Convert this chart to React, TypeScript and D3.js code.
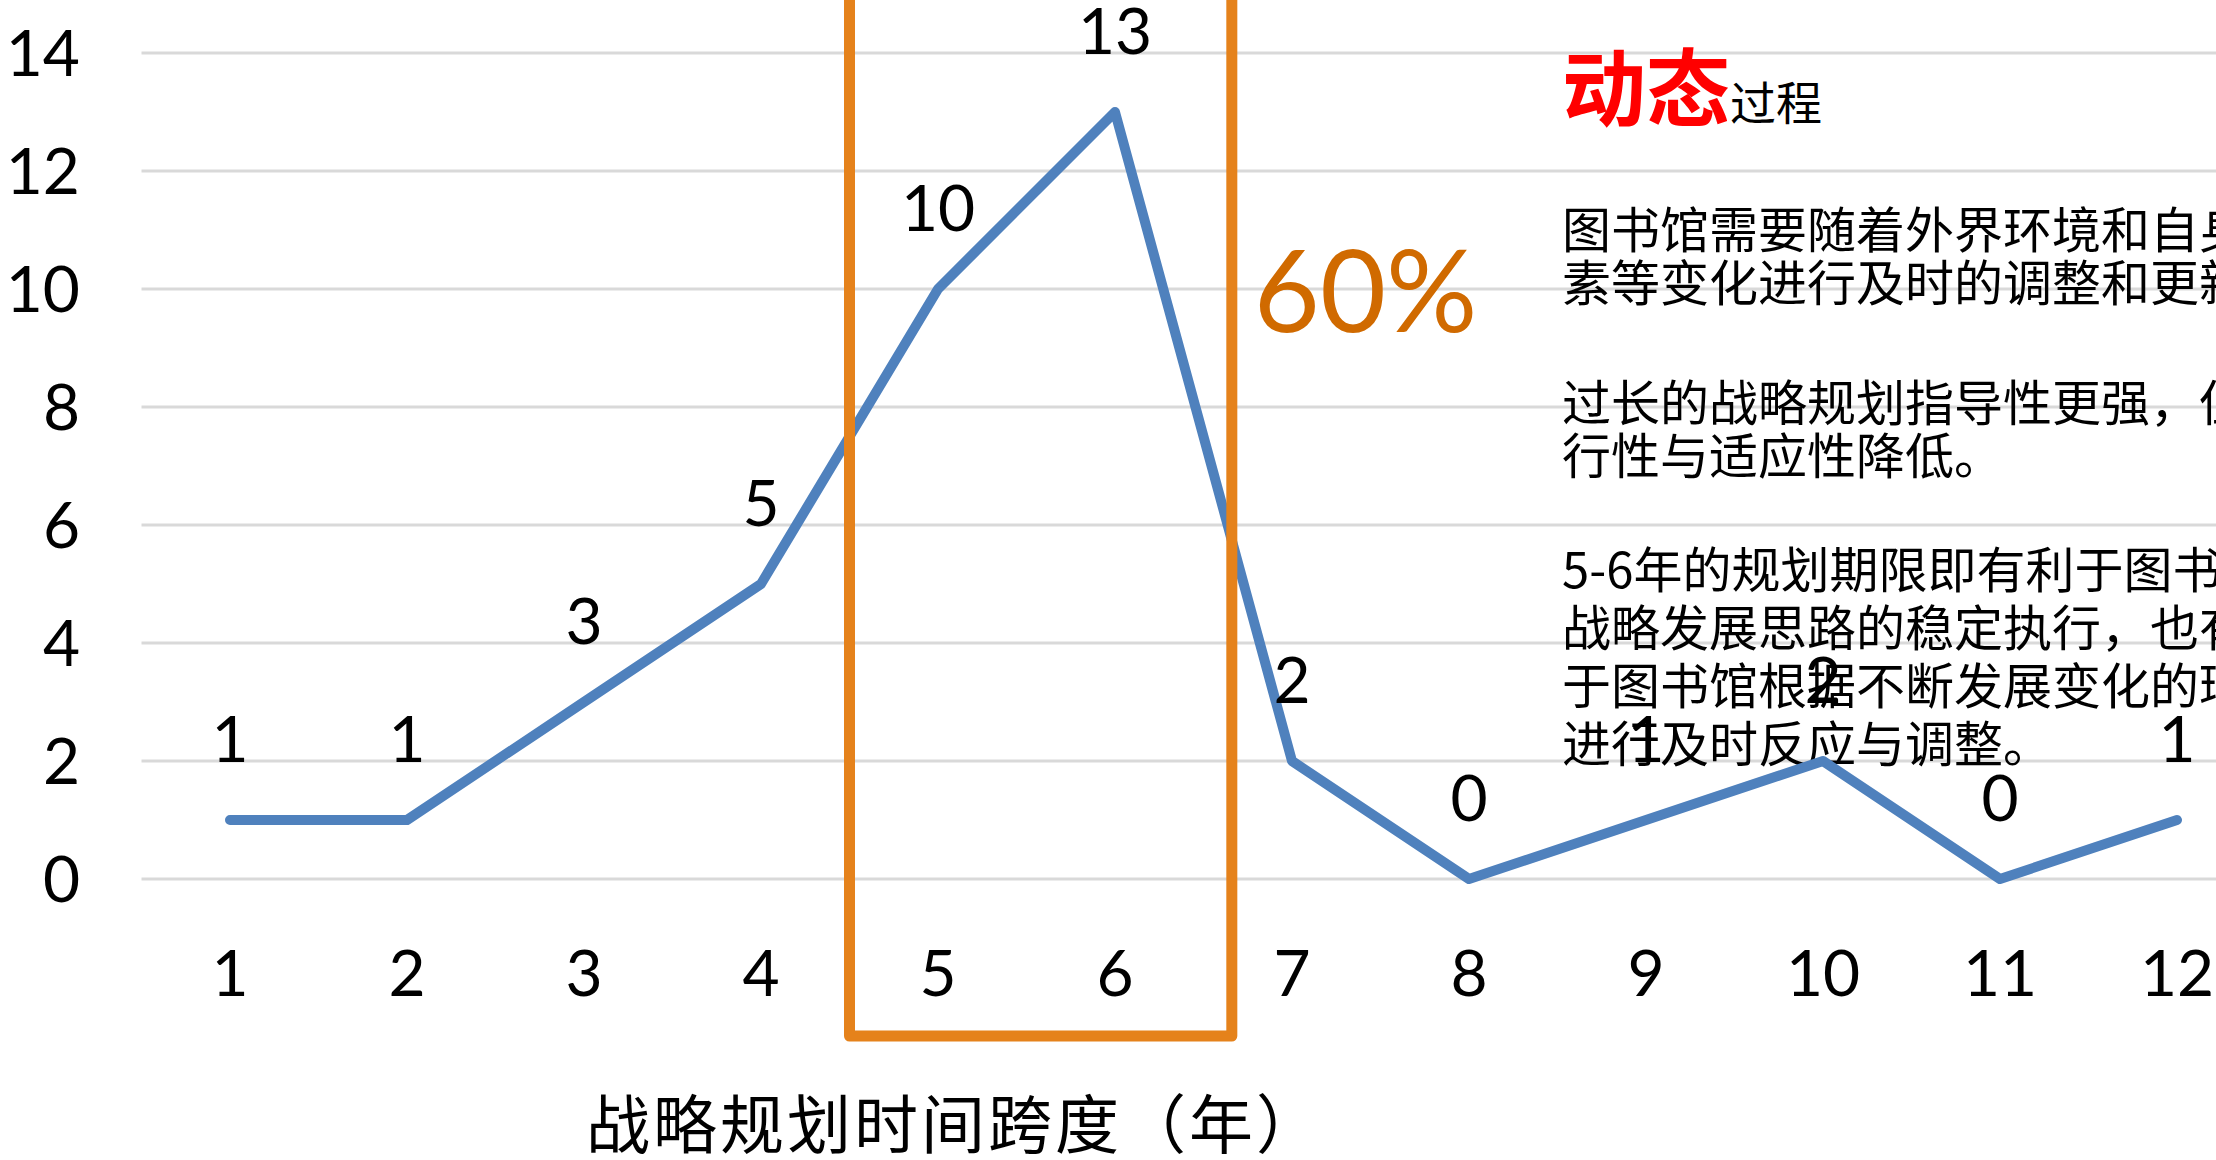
import React, { useEffect, useRef } from 'react';
import * as d3 from 'd3';

// chart data
const years = ['1', '2', '3', '4', '5', '6', '7', '8', '9', '10', '11', '12'];
const counts = [1, 1, 3, 5, 10, 13, 2, 0, 1, 2, 0, 1];
const yTicks = [0, 2, 4, 6, 8, 10, 12, 14];
const axisTitle = '战略规划时间跨度（年）';
const highlightYears = ['5', '6'];
const highlightShare = '60%';

// side note
const headlineRed = '动态';
const headlineRest = '过程';
const noteParagraphs = [
    ['图书馆需要随着外界环境和自身因', '素等变化进行及时的调整和更新。'],
    ['过长的战略规划指导性更强，但可执', '行性与适应性降低。'],
    ['5-6年的规划期限即有利于图书馆', '战略发展思路的稳定执行，也有利', '于图书馆根据不断发展变化的环境', '进行及时反应与调整。'],
];

const W = 2216;
const H = 1160;
const NUM_FONT = 'Lato, "Open Sans", sans-serif';
const CJK_FONT = '"Noto Sans CJK SC", sans-serif';

const App = () => {
    const svgRef = useRef<SVGSVGElement>(null);

    useEffect(() => {
        draw();
    }, []);

    const draw = () => {
        const svg = d3.select(svgRef.current);
        svg.selectAll('*').remove();

        const step = 177;
        const left = 141.5;
        const x = d3.scaleBand<string>()
            .domain(years)
            .range([left, left + step * years.length])
            .padding(0);
        const cx = (d: string) => (x(d) as number) + x.bandwidth() / 2;

        const y = d3.scaleLinear().domain([0, 14]).range([879, 53]);

        // gridlines
        svg.append('g')
            .selectAll('line')
            .data(yTicks)
            .enter()
            .append('line')
            .attr('x1', left)
            .attr('x2', W)
            .attr('y1', d => y(d))
            .attr('y2', d => y(d))
            .attr('stroke', '#D9D9D9')
            .attr('stroke-width', 3);

        // y tick labels
        svg.append('g')
            .selectAll('text')
            .data(yTicks)
            .enter()
            .append('text')
            .attr('x', 80)
            .attr('y', d => y(d) + 23)
            .attr('text-anchor', 'end')
            .style('font-family', NUM_FONT)
            .style('font-size', '64px')
            .attr('fill', '#000')
            .text(d => d);

        // x tick labels
        svg.append('g')
            .selectAll('text')
            .data(years)
            .enter()
            .append('text')
            .attr('x', d => cx(d))
            .attr('y', 996)
            .attr('text-anchor', 'middle')
            .style('font-family', NUM_FONT)
            .style('font-size', '64px')
            .attr('fill', '#000')
            .text(d => d);

        // axis title
        svg.append('text')
            .attr('x', 586)
            .attr('y', 1120)
            .attr('dominant-baseline', 'central')
            .style('font-family', CJK_FONT)
            .style('font-size', '64px')
            .style('letter-spacing', '3px')
            .attr('fill', '#000')
            .text(axisTitle);

        // side note
        const note = svg.append('g');
        const head = note.append('text')
            .attr('x', 1562)
            .attr('y', 120)
            .style('font-family', CJK_FONT);
        head.append('tspan')
            .style('font-size', '84px')
            .style('font-weight', 700)
            .attr('fill', '#FF0000')
            .text(headlineRed);
        head.append('tspan')
            .style('font-size', '46px')
            .attr('fill', '#000')
            .text(headlineRest);

        const paraTop = [226, 399, 566];
        const paraStep = [53, 53, 58];
        noteParagraphs.forEach((lines, i) => {
            note.append('g')
                .selectAll('text')
                .data(lines)
                .enter()
                .append('text')
                .attr('x', 1562)
                .attr('y', (_, j) => paraTop[i] + j * paraStep[i])
                .attr('dominant-baseline', 'central')
                .style('font-family', CJK_FONT)
                .style('font-size', '49px')
                .attr('fill', '#000')
                .text(d => d);
        });

        // series line
        const line = d3.line<number>()
            .x((_, i) => cx(years[i]))
            .y(d => y(d));

        svg.append('path')
            .datum(counts)
            .attr('d', line)
            .attr('fill', 'none')
            .attr('stroke', '#4F81BD')
            .attr('stroke-width', 10)
            .attr('stroke-linecap', 'round')
            .attr('stroke-linejoin', 'round');

        // data labels
        svg.append('g')
            .selectAll('text')
            .data(counts)
            .enter()
            .append('text')
            .attr('x', (_, i) => cx(years[i]))
            .attr('y', d => y(d) - 58)
            .attr('text-anchor', 'middle')
            .style('font-family', NUM_FONT)
            .style('font-size', '64px')
            .attr('fill', '#000')
            .text(d => d);

        // highlight box around 5-6 years
        const bx0 = x(highlightYears[0]) as number;
        const bx1 = cx(highlightYears[highlightYears.length - 1]) + step * 0.66;
        svg.append('rect')
            .attr('x', bx0)
            .attr('y', -30)
            .attr('width', bx1 - bx0)
            .attr('height', 1036 + 30)
            .attr('fill', 'none')
            .attr('stroke', '#E5821B')
            .attr('stroke-width', 11)
            .attr('stroke-linejoin', 'round');

        svg.append('text')
            .attr('x', bx1 + 22)
            .attr('y', 332)
            .style('font-family', NUM_FONT)
            .style('font-size', '114px')
            .attr('fill', '#D06A00')
            .text(highlightShare);
    };

    return (
        <svg
            ref={svgRef}
            width={W}
            height={H}
            style={{ position: 'absolute', left: 0, top: 0, background: '#fff' }}
        />
    );
};

export default App;
